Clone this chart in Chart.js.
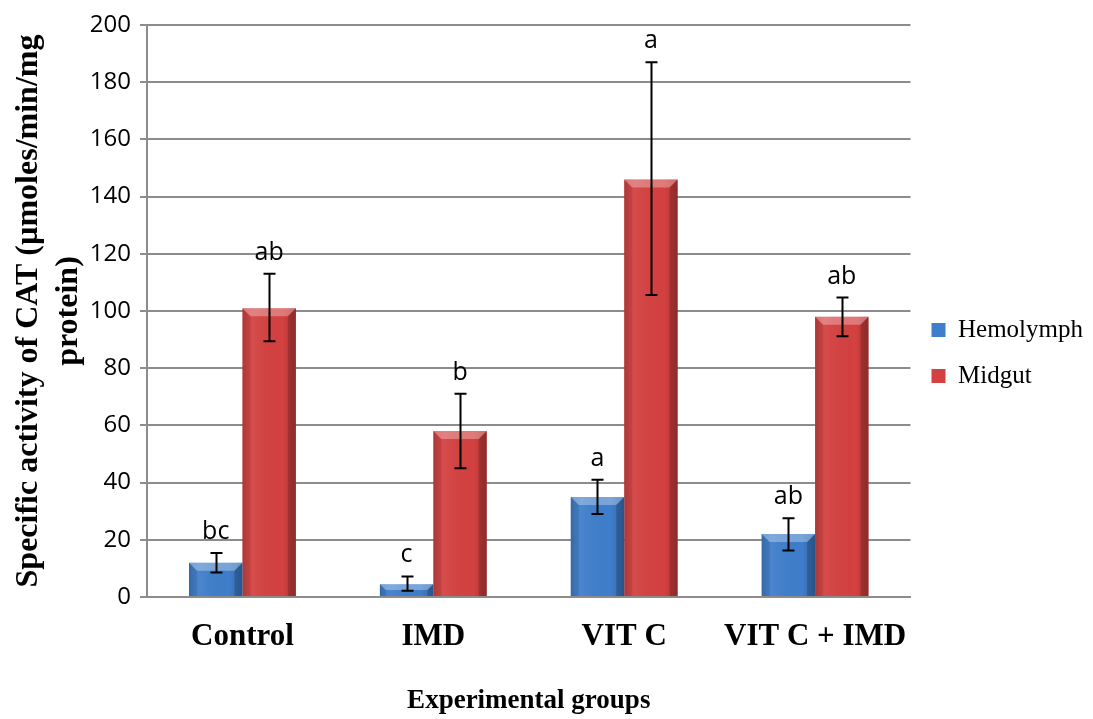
<!DOCTYPE html>
<html>
<head>
<meta charset="utf-8">
<script src="https://cdn.jsdelivr.net/npm/chart.js@4/dist/chart.umd.min.js"></script>
<style>
  html, body { margin: 0; padding: 0; background: #ffffff; }
  #wrap { width: 1093px; height: 719px; position: relative; }
</style>
</head>
<body>
<div id="wrap"><canvas id="catChart"></canvas></div>
<script>
// groups on the x axis
const groups = ["Control", "IMD", "VIT C", "VIT C + IMD"];

// mean CAT activity
const hemolymph = [12, 4.5, 35, 22];
const midgut = [101, 58, 146, 98];

// error bar ends (low / high)
const hemolymphLow = [8.6, 2.2, 29, 16.3];
const hemolymphHigh = [15.4, 7.2, 41, 27.5];
const midgutLow = [89.4, 45, 105.6, 91.2];
const midgutHigh = [113, 71.1, 187, 104.7];

// significance letters
const hemolymphLetters = ["bc", "c", "a", "ab"];
const midgutLetters = ["ab", "b", "a", "ab"];

const yTicks = [0, 20, 40, 60, 80, 100, 120, 140, 160, 180, 200];

const errLow = [hemolymphLow, midgutLow];
const errHigh = [hemolymphHigh, midgutHigh];
const letters = [hemolymphLetters, midgutLetters];

// bevel look like the old office 3D bars
const bevelPlugin = {
    id: "bevel",
    afterDatasetDraw(chart, args) {
        const ctx = chart.ctx;
        const meta = args.meta;
        ctx.save();
        meta.data.forEach((bar) => {
            const l = bar.x - bar.width / 2;
            const r = bar.x + bar.width / 2;
            const t = Math.min(bar.y, bar.base);
            const b = Math.max(bar.y, bar.base);
            const bv = Math.min(8, (b - t) / 2);
            // body shading
            const g = ctx.createLinearGradient(l, 0, r, 0);
            g.addColorStop(0, "rgba(0,0,0,0.10)");
            g.addColorStop(0.2, "rgba(255,255,255,0.06)");
            g.addColorStop(0.75, "rgba(0,0,0,0.0)");
            g.addColorStop(1, "rgba(0,0,0,0.18)");
            ctx.fillStyle = g;
            ctx.fillRect(l, t, r - l, b - t);
            // top bevel
            ctx.fillStyle = "rgba(255,255,255,0.30)";
            ctx.beginPath();
            ctx.moveTo(l, t); ctx.lineTo(r, t); ctx.lineTo(r - bv, t + bv); ctx.lineTo(l + bv, t + bv);
            ctx.closePath(); ctx.fill();
            // right bevel
            ctx.fillStyle = "rgba(0,0,0,0.18)";
            ctx.beginPath();
            ctx.moveTo(r, t); ctx.lineTo(r, b); ctx.lineTo(r - bv, b); ctx.lineTo(r - bv, t + bv);
            ctx.closePath(); ctx.fill();
            // left bevel
            ctx.fillStyle = "rgba(0,0,0,0.08)";
            ctx.beginPath();
            ctx.moveTo(l, t); ctx.lineTo(l + bv, t + bv); ctx.lineTo(l + bv, b); ctx.lineTo(l, b);
            ctx.closePath(); ctx.fill();
        });
        ctx.restore();
    }
};

// error bars + letters above them
const errorPlugin = {
    id: "errorBars",
    afterDatasetsDraw(chart) {
        const ctx = chart.ctx;
        const y = chart.scales.y;
        ctx.save();
        chart.data.datasets.forEach((ds, di) => {
            const meta = chart.getDatasetMeta(di);
            meta.data.forEach((bar, i) => {
                const yHi = y.getPixelForValue(errHigh[di][i]);
                const yLo = y.getPixelForValue(errLow[di][i]);
                const x = Math.round(bar.x) + 0.5;
                ctx.strokeStyle = "#000000";
                ctx.lineWidth = 2;
                ctx.beginPath();
                ctx.moveTo(x, yHi); ctx.lineTo(x, yLo);
                ctx.moveTo(x - 6, yHi); ctx.lineTo(x + 6, yHi);
                ctx.moveTo(x - 6, yLo); ctx.lineTo(x + 6, yLo);
                ctx.stroke();

                ctx.fillStyle = "#000000";
                ctx.font = "25px 'Open Sans'";
                ctx.textAlign = "center";
                ctx.textBaseline = "alphabetic";
                ctx.fillText(letters[di][i], bar.x, yHi - 14);
            });
        });
        ctx.restore();
    }
};

// nudge the legend up, it sits a bit below the middle in the original
const legendShift = {
    id: "legendShift",
    afterLayout(chart) {
        if (chart.legend) {
            chart.legend.top -= 19;
            chart.legend.bottom -= 19;
        }
    }
};

const ctx = document.getElementById("catChart").getContext("2d");
const catChart = new Chart(ctx, {
    type: "bar",
    data: {
        labels: groups,
        datasets: [
            {
                label: "Hemolymph",
                data: hemolymph,
                backgroundColor: "#3f7ecb",
                borderWidth: 0,
                categoryPercentage: 0.56,
                barPercentage: 1.0
            },
            {
                label: "Midgut",
                data: midgut,
                backgroundColor: "#d34140",
                borderWidth: 0,
                categoryPercentage: 0.56,
                barPercentage: 1.0
            }
        ]
    },
    options: {
        responsive: true,
        maintainAspectRatio: false,
        animation: false,
        layout: {
            padding: { top: 25, left: 0, right: 0, bottom: 0 }
        },
        scales: {
            x: {
                grid: { display: false, drawTicks: false },
                border: { display: true, color: "#8c8c8c", width: 2 },
                ticks: {
                    color: "#000000",
                    padding: 21,
                    autoSkip: false,
                    maxRotation: 0,
                    minRotation: 0,
                    font: { family: "'Liberation Serif'", size: 31, weight: "bold" }
                },
                title: {
                    display: true,
                    text: "Experimental groups",
                    color: "#000000",
                    padding: { top: 0, bottom: 2 },
                    font: { family: "'Liberation Serif'", size: 27, weight: "bold" }
                },
                afterFit: (s) => { s.height = 122; }
            },
            y: {
                min: 0,
                max: 200,
                afterBuildTicks: (s) => { s.ticks = yTicks.map((v) => ({ value: v })); },
                grid: { color: "#8c8c8c", lineWidth: 2, tickLength: 7 },
                border: { display: true, color: "#8c8c8c", width: 2 },
                ticks: {
                    color: "#000000",
                    padding: 9,
                    font: { family: "'Open Sans'", size: 24 }
                },
                title: {
                    display: true,
                    text: ["Specific activity of CAT (\u00b5moles/min/mg", "protein)"],
                    color: "#000000",
                    padding: { top: 9, bottom: 0 },
                    font: { family: "'Liberation Serif'", size: 32, weight: "bold", lineHeight: 1.25 }
                },
                afterFit: (s) => { s.width = 147; }
            }
        },
        plugins: {
            legend: {
                display: true,
                position: "right",
                labels: {
                    color: "#000000",
                    boxWidth: 14,
                    boxHeight: 14,
                    padding: 21,
                    font: { family: "'Liberation Serif'", size: 25 }
                }
            },
            tooltip: { enabled: false }
        }
    },
    plugins: [bevelPlugin, errorPlugin, legendShift]
});
</script>
</body>
</html>
